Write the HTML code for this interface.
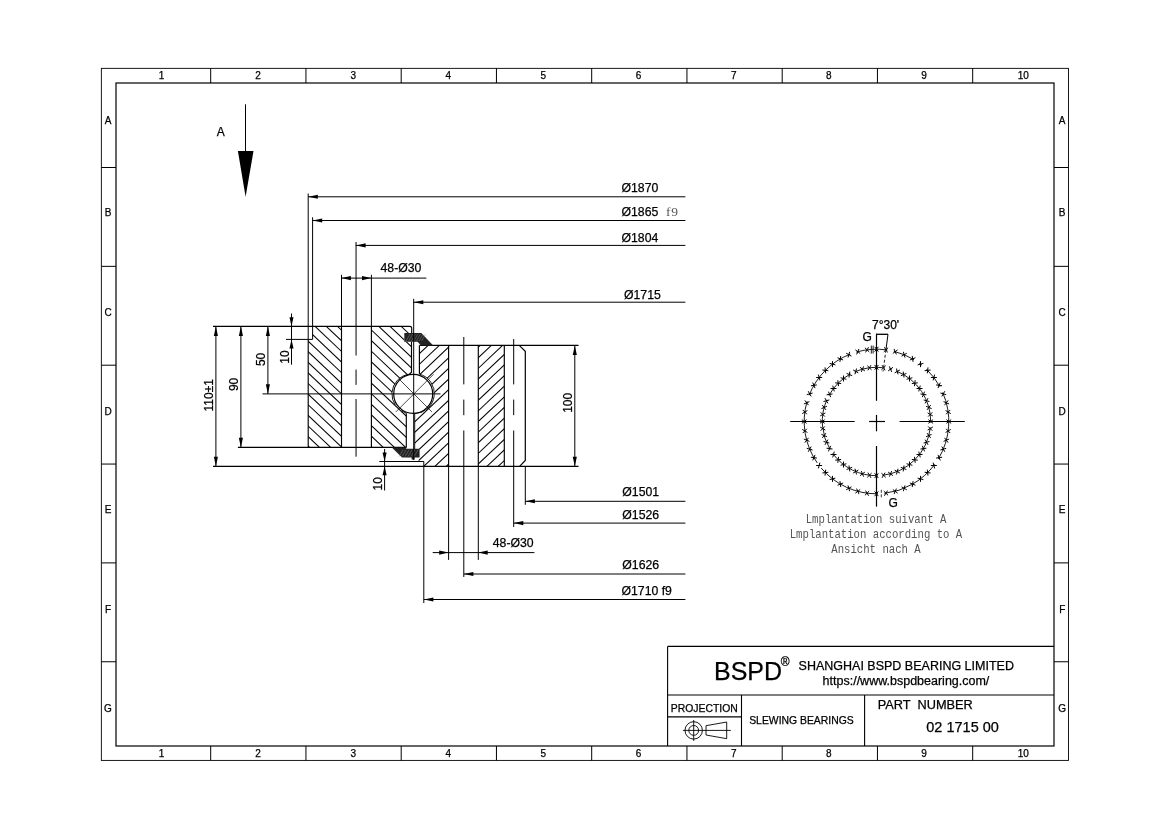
<!DOCTYPE html>
<html><head><meta charset="utf-8"><title>Slewing bearing 02 1715 00</title>
<style>
html,body{margin:0;padding:0;background:#fff;}
body{width:1170px;height:827px;overflow:hidden;font-family:"Liberation Sans",sans-serif;}
svg{display:block;filter:grayscale(1);}
</style></head><body>
<svg width="1170" height="827" viewBox="0 0 1170 827">
<rect width="1170" height="827" fill="#fff"/>
<rect x="101.35" y="68.35" width="967.15" height="692.05" fill="none" stroke="#000" stroke-width="0.9"/>
<rect x="116.0" y="83.0" width="938.00" height="663.00" fill="none" stroke="#000" stroke-width="1.2"/>
<line x1="210.70" y1="68.35" x2="210.70" y2="83.00" stroke="#000" stroke-width="1.0" />
<line x1="210.70" y1="746.00" x2="210.70" y2="760.40" stroke="#000" stroke-width="1.0" />
<line x1="305.95" y1="68.35" x2="305.95" y2="83.00" stroke="#000" stroke-width="1.0" />
<line x1="305.95" y1="746.00" x2="305.95" y2="760.40" stroke="#000" stroke-width="1.0" />
<line x1="401.20" y1="68.35" x2="401.20" y2="83.00" stroke="#000" stroke-width="1.0" />
<line x1="401.20" y1="746.00" x2="401.20" y2="760.40" stroke="#000" stroke-width="1.0" />
<line x1="496.45" y1="68.35" x2="496.45" y2="83.00" stroke="#000" stroke-width="1.0" />
<line x1="496.45" y1="746.00" x2="496.45" y2="760.40" stroke="#000" stroke-width="1.0" />
<line x1="591.70" y1="68.35" x2="591.70" y2="83.00" stroke="#000" stroke-width="1.0" />
<line x1="591.70" y1="746.00" x2="591.70" y2="760.40" stroke="#000" stroke-width="1.0" />
<line x1="686.95" y1="68.35" x2="686.95" y2="83.00" stroke="#000" stroke-width="1.0" />
<line x1="686.95" y1="746.00" x2="686.95" y2="760.40" stroke="#000" stroke-width="1.0" />
<line x1="782.20" y1="68.35" x2="782.20" y2="83.00" stroke="#000" stroke-width="1.0" />
<line x1="782.20" y1="746.00" x2="782.20" y2="760.40" stroke="#000" stroke-width="1.0" />
<line x1="877.45" y1="68.35" x2="877.45" y2="83.00" stroke="#000" stroke-width="1.0" />
<line x1="877.45" y1="746.00" x2="877.45" y2="760.40" stroke="#000" stroke-width="1.0" />
<line x1="972.70" y1="68.35" x2="972.70" y2="83.00" stroke="#000" stroke-width="1.0" />
<line x1="972.70" y1="746.00" x2="972.70" y2="760.40" stroke="#000" stroke-width="1.0" />
<line x1="101.35" y1="167.50" x2="116.00" y2="167.50" stroke="#000" stroke-width="1.0" />
<line x1="1054.00" y1="167.50" x2="1068.50" y2="167.50" stroke="#000" stroke-width="1.0" />
<line x1="101.35" y1="266.35" x2="116.00" y2="266.35" stroke="#000" stroke-width="1.0" />
<line x1="1054.00" y1="266.35" x2="1068.50" y2="266.35" stroke="#000" stroke-width="1.0" />
<line x1="101.35" y1="365.20" x2="116.00" y2="365.20" stroke="#000" stroke-width="1.0" />
<line x1="1054.00" y1="365.20" x2="1068.50" y2="365.20" stroke="#000" stroke-width="1.0" />
<line x1="101.35" y1="464.05" x2="116.00" y2="464.05" stroke="#000" stroke-width="1.0" />
<line x1="1054.00" y1="464.05" x2="1068.50" y2="464.05" stroke="#000" stroke-width="1.0" />
<line x1="101.35" y1="562.90" x2="116.00" y2="562.90" stroke="#000" stroke-width="1.0" />
<line x1="1054.00" y1="562.90" x2="1068.50" y2="562.90" stroke="#000" stroke-width="1.0" />
<line x1="101.35" y1="661.75" x2="116.00" y2="661.75" stroke="#000" stroke-width="1.0" />
<line x1="1054.00" y1="661.75" x2="1068.50" y2="661.75" stroke="#000" stroke-width="1.0" />
<text x="161.50" y="78.90" font-family="Liberation Sans" font-size="10" text-anchor="middle" fill="#000"  stroke="#000" stroke-width="0.25">1</text>
<text x="161.50" y="756.80" font-family="Liberation Sans" font-size="10" text-anchor="middle" fill="#000"  stroke="#000" stroke-width="0.25">1</text>
<text x="258.10" y="78.90" font-family="Liberation Sans" font-size="10" text-anchor="middle" fill="#000"  stroke="#000" stroke-width="0.25">2</text>
<text x="258.10" y="756.80" font-family="Liberation Sans" font-size="10" text-anchor="middle" fill="#000"  stroke="#000" stroke-width="0.25">2</text>
<text x="353.20" y="78.90" font-family="Liberation Sans" font-size="10" text-anchor="middle" fill="#000"  stroke="#000" stroke-width="0.25">3</text>
<text x="353.20" y="756.80" font-family="Liberation Sans" font-size="10" text-anchor="middle" fill="#000"  stroke="#000" stroke-width="0.25">3</text>
<text x="448.40" y="78.90" font-family="Liberation Sans" font-size="10" text-anchor="middle" fill="#000"  stroke="#000" stroke-width="0.25">4</text>
<text x="448.40" y="756.80" font-family="Liberation Sans" font-size="10" text-anchor="middle" fill="#000"  stroke="#000" stroke-width="0.25">4</text>
<text x="543.40" y="78.90" font-family="Liberation Sans" font-size="10" text-anchor="middle" fill="#000"  stroke="#000" stroke-width="0.25">5</text>
<text x="543.40" y="756.80" font-family="Liberation Sans" font-size="10" text-anchor="middle" fill="#000"  stroke="#000" stroke-width="0.25">5</text>
<text x="638.60" y="78.90" font-family="Liberation Sans" font-size="10" text-anchor="middle" fill="#000"  stroke="#000" stroke-width="0.25">6</text>
<text x="638.60" y="756.80" font-family="Liberation Sans" font-size="10" text-anchor="middle" fill="#000"  stroke="#000" stroke-width="0.25">6</text>
<text x="733.80" y="78.90" font-family="Liberation Sans" font-size="10" text-anchor="middle" fill="#000"  stroke="#000" stroke-width="0.25">7</text>
<text x="733.80" y="756.80" font-family="Liberation Sans" font-size="10" text-anchor="middle" fill="#000"  stroke="#000" stroke-width="0.25">7</text>
<text x="828.90" y="78.90" font-family="Liberation Sans" font-size="10" text-anchor="middle" fill="#000"  stroke="#000" stroke-width="0.25">8</text>
<text x="828.90" y="756.80" font-family="Liberation Sans" font-size="10" text-anchor="middle" fill="#000"  stroke="#000" stroke-width="0.25">8</text>
<text x="924.00" y="78.90" font-family="Liberation Sans" font-size="10" text-anchor="middle" fill="#000"  stroke="#000" stroke-width="0.25">9</text>
<text x="924.00" y="756.80" font-family="Liberation Sans" font-size="10" text-anchor="middle" fill="#000"  stroke="#000" stroke-width="0.25">9</text>
<text x="1023.20" y="78.90" font-family="Liberation Sans" font-size="10" text-anchor="middle" fill="#000"  stroke="#000" stroke-width="0.25">10</text>
<text x="1023.20" y="756.80" font-family="Liberation Sans" font-size="10" text-anchor="middle" fill="#000"  stroke="#000" stroke-width="0.25">10</text>
<text x="108.00" y="123.50" font-family="Liberation Sans" font-size="10" text-anchor="middle" fill="#000"  stroke="#000" stroke-width="0.25">A</text>
<text x="1062.20" y="123.50" font-family="Liberation Sans" font-size="10" text-anchor="middle" fill="#000"  stroke="#000" stroke-width="0.25">A</text>
<text x="108.00" y="215.90" font-family="Liberation Sans" font-size="10" text-anchor="middle" fill="#000"  stroke="#000" stroke-width="0.25">B</text>
<text x="1062.20" y="215.90" font-family="Liberation Sans" font-size="10" text-anchor="middle" fill="#000"  stroke="#000" stroke-width="0.25">B</text>
<text x="108.00" y="315.60" font-family="Liberation Sans" font-size="10" text-anchor="middle" fill="#000"  stroke="#000" stroke-width="0.25">C</text>
<text x="1062.20" y="315.60" font-family="Liberation Sans" font-size="10" text-anchor="middle" fill="#000"  stroke="#000" stroke-width="0.25">C</text>
<text x="108.00" y="414.50" font-family="Liberation Sans" font-size="10" text-anchor="middle" fill="#000"  stroke="#000" stroke-width="0.25">D</text>
<text x="1062.20" y="414.50" font-family="Liberation Sans" font-size="10" text-anchor="middle" fill="#000"  stroke="#000" stroke-width="0.25">D</text>
<text x="108.00" y="513.40" font-family="Liberation Sans" font-size="10" text-anchor="middle" fill="#000"  stroke="#000" stroke-width="0.25">E</text>
<text x="1062.20" y="513.40" font-family="Liberation Sans" font-size="10" text-anchor="middle" fill="#000"  stroke="#000" stroke-width="0.25">E</text>
<text x="108.00" y="612.70" font-family="Liberation Sans" font-size="10" text-anchor="middle" fill="#000"  stroke="#000" stroke-width="0.25">F</text>
<text x="1062.20" y="612.70" font-family="Liberation Sans" font-size="10" text-anchor="middle" fill="#000"  stroke="#000" stroke-width="0.25">F</text>
<text x="108.00" y="711.50" font-family="Liberation Sans" font-size="10" text-anchor="middle" fill="#000"  stroke="#000" stroke-width="0.25">G</text>
<text x="1062.20" y="711.50" font-family="Liberation Sans" font-size="10" text-anchor="middle" fill="#000"  stroke="#000" stroke-width="0.25">G</text>
<line x1="245.50" y1="104.30" x2="245.50" y2="151.50" stroke="#000" stroke-width="1.0" />
<polygon points="237.9,150.9 253.5,150.9 245.6,196.8" fill="#000"/>
<text x="216.70" y="135.90" font-family="Liberation Sans" font-size="12" text-anchor="start" fill="#000"  stroke="#000" stroke-width="0.25">A</text>
<defs>
<clipPath id="co1"><path d="M312.6,326.3 L341.5,326.3 L341.5,447.4 L308.2,447.4 L308.2,339.4 L312.6,339.4 Z"/></clipPath>
<clipPath id="co2"><path d="M371.4,326.3 L411.7,326.3 L411.7,333.2 L404.3,333.2 L404.3,341.7 L411.5,341.7 L411.5,372.3 L409.3,374.2 A19.98,19.98 0 0 0 406.3,413.2 L406.3,447.4 L371.4,447.4 Z"/></clipPath>
<clipPath id="ci1"><path d="M419.4,345.4 L448.6,345.4 L448.6,466.3 L423.8,466.3 L423.8,461.5 L418.2,461.5 L419.5,457.5 L419.5,449 L414.7,449 L414.7,413.6 A20.09,20.09 0 0 0 419.4,374.1 Z"/></clipPath>
<clipPath id="ci2"><rect x="478.3" y="345.4" width="26.00" height="120.90"/></clipPath>
</defs>
<g clip-path="url(#co1)">
<line x1="300.00" y1="142.18" x2="420.00" y2="255.82" stroke="#000" stroke-width="1.05" />
<line x1="300.00" y1="152.80" x2="420.00" y2="266.44" stroke="#000" stroke-width="1.05" />
<line x1="300.00" y1="163.42" x2="420.00" y2="277.06" stroke="#000" stroke-width="1.05" />
<line x1="300.00" y1="174.04" x2="420.00" y2="287.68" stroke="#000" stroke-width="1.05" />
<line x1="300.00" y1="184.66" x2="420.00" y2="298.30" stroke="#000" stroke-width="1.05" />
<line x1="300.00" y1="195.28" x2="420.00" y2="308.92" stroke="#000" stroke-width="1.05" />
<line x1="300.00" y1="205.90" x2="420.00" y2="319.54" stroke="#000" stroke-width="1.05" />
<line x1="300.00" y1="216.52" x2="420.00" y2="330.16" stroke="#000" stroke-width="1.05" />
<line x1="300.00" y1="227.14" x2="420.00" y2="340.78" stroke="#000" stroke-width="1.05" />
<line x1="300.00" y1="237.76" x2="420.00" y2="351.40" stroke="#000" stroke-width="1.05" />
<line x1="300.00" y1="248.38" x2="420.00" y2="362.02" stroke="#000" stroke-width="1.05" />
<line x1="300.00" y1="259.00" x2="420.00" y2="372.64" stroke="#000" stroke-width="1.05" />
<line x1="300.00" y1="269.62" x2="420.00" y2="383.26" stroke="#000" stroke-width="1.05" />
<line x1="300.00" y1="280.24" x2="420.00" y2="393.88" stroke="#000" stroke-width="1.05" />
<line x1="300.00" y1="290.86" x2="420.00" y2="404.50" stroke="#000" stroke-width="1.05" />
<line x1="300.00" y1="301.48" x2="420.00" y2="415.12" stroke="#000" stroke-width="1.05" />
<line x1="300.00" y1="312.10" x2="420.00" y2="425.74" stroke="#000" stroke-width="1.05" />
<line x1="300.00" y1="322.72" x2="420.00" y2="436.36" stroke="#000" stroke-width="1.05" />
<line x1="300.00" y1="333.34" x2="420.00" y2="446.98" stroke="#000" stroke-width="1.05" />
<line x1="300.00" y1="343.96" x2="420.00" y2="457.60" stroke="#000" stroke-width="1.05" />
<line x1="300.00" y1="354.58" x2="420.00" y2="468.22" stroke="#000" stroke-width="1.05" />
<line x1="300.00" y1="365.20" x2="420.00" y2="478.84" stroke="#000" stroke-width="1.05" />
<line x1="300.00" y1="375.82" x2="420.00" y2="489.46" stroke="#000" stroke-width="1.05" />
<line x1="300.00" y1="386.44" x2="420.00" y2="500.08" stroke="#000" stroke-width="1.05" />
<line x1="300.00" y1="397.06" x2="420.00" y2="510.70" stroke="#000" stroke-width="1.05" />
<line x1="300.00" y1="407.68" x2="420.00" y2="521.32" stroke="#000" stroke-width="1.05" />
<line x1="300.00" y1="418.30" x2="420.00" y2="531.94" stroke="#000" stroke-width="1.05" />
<line x1="300.00" y1="428.92" x2="420.00" y2="542.56" stroke="#000" stroke-width="1.05" />
<line x1="300.00" y1="439.54" x2="420.00" y2="553.18" stroke="#000" stroke-width="1.05" />
<line x1="300.00" y1="450.16" x2="420.00" y2="563.80" stroke="#000" stroke-width="1.05" />
<line x1="300.00" y1="460.78" x2="420.00" y2="574.42" stroke="#000" stroke-width="1.05" />
<line x1="300.00" y1="471.40" x2="420.00" y2="585.04" stroke="#000" stroke-width="1.05" />
</g>
<g clip-path="url(#co2)">
<line x1="300.00" y1="145.58" x2="420.00" y2="259.22" stroke="#000" stroke-width="1.05" />
<line x1="300.00" y1="156.20" x2="420.00" y2="269.84" stroke="#000" stroke-width="1.05" />
<line x1="300.00" y1="166.82" x2="420.00" y2="280.46" stroke="#000" stroke-width="1.05" />
<line x1="300.00" y1="177.44" x2="420.00" y2="291.08" stroke="#000" stroke-width="1.05" />
<line x1="300.00" y1="188.06" x2="420.00" y2="301.70" stroke="#000" stroke-width="1.05" />
<line x1="300.00" y1="198.68" x2="420.00" y2="312.32" stroke="#000" stroke-width="1.05" />
<line x1="300.00" y1="209.30" x2="420.00" y2="322.94" stroke="#000" stroke-width="1.05" />
<line x1="300.00" y1="219.92" x2="420.00" y2="333.56" stroke="#000" stroke-width="1.05" />
<line x1="300.00" y1="230.54" x2="420.00" y2="344.18" stroke="#000" stroke-width="1.05" />
<line x1="300.00" y1="241.16" x2="420.00" y2="354.80" stroke="#000" stroke-width="1.05" />
<line x1="300.00" y1="251.78" x2="420.00" y2="365.42" stroke="#000" stroke-width="1.05" />
<line x1="300.00" y1="262.40" x2="420.00" y2="376.04" stroke="#000" stroke-width="1.05" />
<line x1="300.00" y1="273.02" x2="420.00" y2="386.66" stroke="#000" stroke-width="1.05" />
<line x1="300.00" y1="283.64" x2="420.00" y2="397.28" stroke="#000" stroke-width="1.05" />
<line x1="300.00" y1="294.26" x2="420.00" y2="407.90" stroke="#000" stroke-width="1.05" />
<line x1="300.00" y1="304.88" x2="420.00" y2="418.52" stroke="#000" stroke-width="1.05" />
<line x1="300.00" y1="315.50" x2="420.00" y2="429.14" stroke="#000" stroke-width="1.05" />
<line x1="300.00" y1="326.12" x2="420.00" y2="439.76" stroke="#000" stroke-width="1.05" />
<line x1="300.00" y1="336.74" x2="420.00" y2="450.38" stroke="#000" stroke-width="1.05" />
<line x1="300.00" y1="347.36" x2="420.00" y2="461.00" stroke="#000" stroke-width="1.05" />
<line x1="300.00" y1="357.98" x2="420.00" y2="471.62" stroke="#000" stroke-width="1.05" />
<line x1="300.00" y1="368.60" x2="420.00" y2="482.24" stroke="#000" stroke-width="1.05" />
<line x1="300.00" y1="379.22" x2="420.00" y2="492.86" stroke="#000" stroke-width="1.05" />
<line x1="300.00" y1="389.84" x2="420.00" y2="503.48" stroke="#000" stroke-width="1.05" />
<line x1="300.00" y1="400.46" x2="420.00" y2="514.10" stroke="#000" stroke-width="1.05" />
<line x1="300.00" y1="411.08" x2="420.00" y2="524.72" stroke="#000" stroke-width="1.05" />
<line x1="300.00" y1="421.70" x2="420.00" y2="535.34" stroke="#000" stroke-width="1.05" />
<line x1="300.00" y1="432.32" x2="420.00" y2="545.96" stroke="#000" stroke-width="1.05" />
<line x1="300.00" y1="442.94" x2="420.00" y2="556.58" stroke="#000" stroke-width="1.05" />
<line x1="300.00" y1="453.56" x2="420.00" y2="567.20" stroke="#000" stroke-width="1.05" />
<line x1="300.00" y1="464.18" x2="420.00" y2="577.82" stroke="#000" stroke-width="1.05" />
<line x1="300.00" y1="474.80" x2="420.00" y2="588.44" stroke="#000" stroke-width="1.05" />
</g>
<g clip-path="url(#ci1)">
<line x1="405.00" y1="324.79" x2="455.00" y2="277.44" stroke="#000" stroke-width="1.05" />
<line x1="405.00" y1="335.41" x2="455.00" y2="288.06" stroke="#000" stroke-width="1.05" />
<line x1="405.00" y1="346.03" x2="455.00" y2="298.68" stroke="#000" stroke-width="1.05" />
<line x1="405.00" y1="356.65" x2="455.00" y2="309.30" stroke="#000" stroke-width="1.05" />
<line x1="405.00" y1="367.27" x2="455.00" y2="319.92" stroke="#000" stroke-width="1.05" />
<line x1="405.00" y1="377.89" x2="455.00" y2="330.54" stroke="#000" stroke-width="1.05" />
<line x1="405.00" y1="388.51" x2="455.00" y2="341.16" stroke="#000" stroke-width="1.05" />
<line x1="405.00" y1="399.13" x2="455.00" y2="351.78" stroke="#000" stroke-width="1.05" />
<line x1="405.00" y1="409.75" x2="455.00" y2="362.40" stroke="#000" stroke-width="1.05" />
<line x1="405.00" y1="420.37" x2="455.00" y2="373.02" stroke="#000" stroke-width="1.05" />
<line x1="405.00" y1="430.99" x2="455.00" y2="383.64" stroke="#000" stroke-width="1.05" />
<line x1="405.00" y1="441.61" x2="455.00" y2="394.26" stroke="#000" stroke-width="1.05" />
<line x1="405.00" y1="452.23" x2="455.00" y2="404.88" stroke="#000" stroke-width="1.05" />
<line x1="405.00" y1="462.85" x2="455.00" y2="415.50" stroke="#000" stroke-width="1.05" />
<line x1="405.00" y1="473.47" x2="455.00" y2="426.12" stroke="#000" stroke-width="1.05" />
<line x1="405.00" y1="484.09" x2="455.00" y2="436.74" stroke="#000" stroke-width="1.05" />
<line x1="405.00" y1="494.71" x2="455.00" y2="447.36" stroke="#000" stroke-width="1.05" />
<line x1="405.00" y1="505.33" x2="455.00" y2="457.98" stroke="#000" stroke-width="1.05" />
<line x1="405.00" y1="515.95" x2="455.00" y2="468.60" stroke="#000" stroke-width="1.05" />
<line x1="405.00" y1="526.57" x2="455.00" y2="479.22" stroke="#000" stroke-width="1.05" />
<line x1="405.00" y1="537.19" x2="455.00" y2="489.84" stroke="#000" stroke-width="1.05" />
<line x1="405.00" y1="547.81" x2="455.00" y2="500.46" stroke="#000" stroke-width="1.05" />
<line x1="405.00" y1="558.43" x2="455.00" y2="511.08" stroke="#000" stroke-width="1.05" />
<line x1="405.00" y1="569.05" x2="455.00" y2="521.70" stroke="#000" stroke-width="1.05" />
<line x1="405.00" y1="579.67" x2="455.00" y2="532.32" stroke="#000" stroke-width="1.05" />
<line x1="405.00" y1="590.29" x2="455.00" y2="542.94" stroke="#000" stroke-width="1.05" />
<line x1="405.00" y1="600.91" x2="455.00" y2="553.56" stroke="#000" stroke-width="1.05" />
<line x1="405.00" y1="611.53" x2="455.00" y2="564.18" stroke="#000" stroke-width="1.05" />
<line x1="405.00" y1="622.15" x2="455.00" y2="574.80" stroke="#000" stroke-width="1.05" />
<line x1="405.00" y1="632.77" x2="455.00" y2="585.42" stroke="#000" stroke-width="1.05" />
</g>
<g clip-path="url(#ci2)">
<line x1="470.00" y1="301.88" x2="510.00" y2="264.00" stroke="#000" stroke-width="1.05" />
<line x1="470.00" y1="312.50" x2="510.00" y2="274.62" stroke="#000" stroke-width="1.05" />
<line x1="470.00" y1="323.12" x2="510.00" y2="285.24" stroke="#000" stroke-width="1.05" />
<line x1="470.00" y1="333.74" x2="510.00" y2="295.86" stroke="#000" stroke-width="1.05" />
<line x1="470.00" y1="344.36" x2="510.00" y2="306.48" stroke="#000" stroke-width="1.05" />
<line x1="470.00" y1="354.98" x2="510.00" y2="317.10" stroke="#000" stroke-width="1.05" />
<line x1="470.00" y1="365.60" x2="510.00" y2="327.72" stroke="#000" stroke-width="1.05" />
<line x1="470.00" y1="376.22" x2="510.00" y2="338.34" stroke="#000" stroke-width="1.05" />
<line x1="470.00" y1="386.84" x2="510.00" y2="348.96" stroke="#000" stroke-width="1.05" />
<line x1="470.00" y1="397.46" x2="510.00" y2="359.58" stroke="#000" stroke-width="1.05" />
<line x1="470.00" y1="408.08" x2="510.00" y2="370.20" stroke="#000" stroke-width="1.05" />
<line x1="470.00" y1="418.70" x2="510.00" y2="380.82" stroke="#000" stroke-width="1.05" />
<line x1="470.00" y1="429.32" x2="510.00" y2="391.44" stroke="#000" stroke-width="1.05" />
<line x1="470.00" y1="439.94" x2="510.00" y2="402.06" stroke="#000" stroke-width="1.05" />
<line x1="470.00" y1="450.56" x2="510.00" y2="412.68" stroke="#000" stroke-width="1.05" />
<line x1="470.00" y1="461.18" x2="510.00" y2="423.30" stroke="#000" stroke-width="1.05" />
<line x1="470.00" y1="471.80" x2="510.00" y2="433.92" stroke="#000" stroke-width="1.05" />
<line x1="470.00" y1="482.42" x2="510.00" y2="444.54" stroke="#000" stroke-width="1.05" />
<line x1="470.00" y1="493.04" x2="510.00" y2="455.16" stroke="#000" stroke-width="1.05" />
<line x1="470.00" y1="503.66" x2="510.00" y2="465.78" stroke="#000" stroke-width="1.05" />
<line x1="470.00" y1="514.28" x2="510.00" y2="476.40" stroke="#000" stroke-width="1.05" />
<line x1="470.00" y1="524.90" x2="510.00" y2="487.02" stroke="#000" stroke-width="1.05" />
<line x1="470.00" y1="535.52" x2="510.00" y2="497.64" stroke="#000" stroke-width="1.05" />
<line x1="470.00" y1="546.14" x2="510.00" y2="508.26" stroke="#000" stroke-width="1.05" />
<line x1="470.00" y1="556.76" x2="510.00" y2="518.88" stroke="#000" stroke-width="1.05" />
<line x1="470.00" y1="567.38" x2="510.00" y2="529.50" stroke="#000" stroke-width="1.05" />
<line x1="470.00" y1="578.00" x2="510.00" y2="540.12" stroke="#000" stroke-width="1.05" />
<line x1="470.00" y1="588.62" x2="510.00" y2="550.74" stroke="#000" stroke-width="1.05" />
</g>
<path d="M213,326.3 L409.7,326.3 Q411.7,326.3 411.7,328.3 L411.7,333.2" stroke="#000" stroke-width="1.15" fill="none" />
<path d="M312.6,326.3 L312.6,339.4 L286,339.4" stroke="#000" stroke-width="1.0" fill="none" />
<path d="M308.2,339.4 L308.2,445.4 Q308.2,447.4 310.2,447.4" stroke="#000" stroke-width="1.15" fill="none" />
<line x1="237.90" y1="447.40" x2="406.30" y2="447.40" stroke="#000" stroke-width="1.15" />
<line x1="341.50" y1="326.30" x2="341.50" y2="447.40" stroke="#000" stroke-width="1.15" />
<line x1="371.40" y1="326.30" x2="371.40" y2="447.40" stroke="#000" stroke-width="1.15" />
<path d="M411.5,341.7 L411.5,372.3 L409.3,374.2" stroke="#000" stroke-width="1.15" fill="none" />
<path d="M406.3,413.2 L406.3,447.4" stroke="#000" stroke-width="1.15" fill="none" />
<path d="M409.3,374.2 A19.98,19.98 0 0 0 406.3,413.2" stroke="#000" stroke-width="0.9" fill="none" />
<path d="M419.4,374.1 A20.09,20.09 0 0 1 414.7,413.6" stroke="#000" stroke-width="0.9" fill="none" />
<circle cx="413.2" cy="393.9" r="19.5" fill="none" stroke="#000" stroke-width="1.2"/>
<line x1="395.87" y1="411.93" x2="433.43" y2="374.37" stroke="#000" stroke-width="0.7" />
<line x1="398.87" y1="378.87" x2="431.93" y2="411.93" stroke="#000" stroke-width="0.7" />
<line x1="419.40" y1="345.40" x2="578.50" y2="345.40" stroke="#000" stroke-width="1.15" />
<line x1="213.00" y1="466.30" x2="578.50" y2="466.30" stroke="#000" stroke-width="1.15" />
<path d="M419.4,345.4 L419.4,374.1" stroke="#000" stroke-width="1.15" fill="none" />
<path d="M414.7,413.6 L414.7,449" stroke="#000" stroke-width="0.9" fill="none" />
<line x1="448.60" y1="345.40" x2="448.60" y2="466.30" stroke="#000" stroke-width="1.15" />
<line x1="478.30" y1="345.40" x2="478.30" y2="466.30" stroke="#000" stroke-width="1.15" />
<line x1="504.30" y1="345.40" x2="504.30" y2="466.30" stroke="#000" stroke-width="1.15" />
<path d="M519.2,345.4 L525.3,351.3 L525.3,460.4 L519.6,466.3" stroke="#000" stroke-width="1.2" fill="none" />
<path d="M379.3,461.5 L423.8,461.5 L423.8,466.3" stroke="#000" stroke-width="1.0" fill="none" />
<polygon points="404.3,333.0 421.3,333.0 433.2,345.4 421.0,345.4 417.6,341.8 404.3,341.8" fill="#222"/>
<polygon points="391.8,447.4 406.2,447.4 406.2,448.8 419.6,448.8 419.6,457.6 414.6,457.6 414.6,459.6 411.6,459.6 411.6,457.6 402.0,457.6" fill="#222"/>
<g stroke="#888" stroke-width="0.5">
<line x1="406.0" y1="341" x2="410.0" y2="334.2"/>
<line x1="408.6" y1="341" x2="412.6" y2="334.2"/>
<line x1="411.2" y1="341" x2="415.2" y2="334.2"/>
<line x1="413.8" y1="341" x2="417.8" y2="334.2"/>
<line x1="416.4" y1="341" x2="420.4" y2="334.2"/>
<line x1="419.0" y1="341" x2="423.0" y2="334.2"/>
<line x1="421.6" y1="341" x2="425.6" y2="334.2"/>
<line x1="399.0" y1="456.6" x2="403.0" y2="449.8"/>
<line x1="402.0" y1="456.6" x2="406.0" y2="449.8"/>
<line x1="405.0" y1="456.6" x2="409.0" y2="449.8"/>
<line x1="408.0" y1="456.6" x2="412.0" y2="449.8"/>
<line x1="411.0" y1="456.6" x2="415.0" y2="449.8"/>
<line x1="414.0" y1="456.6" x2="418.0" y2="449.8"/>
</g>
<line x1="262.50" y1="393.90" x2="440.50" y2="393.90" stroke="#000" stroke-width="1.0" />
<line x1="413.70" y1="302.20" x2="413.70" y2="460.00" stroke="#000" stroke-width="1.0" />
<line x1="356.05" y1="245.40" x2="356.05" y2="355.50" stroke="#000" stroke-width="1.0" />
<line x1="356.05" y1="369.60" x2="356.05" y2="384.90" stroke="#000" stroke-width="1.0" />
<line x1="356.05" y1="399.00" x2="356.05" y2="456.70" stroke="#000" stroke-width="1.0" />
<line x1="463.80" y1="337.00" x2="463.80" y2="384.40" stroke="#000" stroke-width="1.0" />
<line x1="463.80" y1="399.60" x2="463.80" y2="415.20" stroke="#000" stroke-width="1.0" />
<line x1="463.80" y1="430.50" x2="463.80" y2="577.00" stroke="#000" stroke-width="1.0" />
<line x1="513.70" y1="339.10" x2="513.70" y2="384.40" stroke="#000" stroke-width="1.0" />
<line x1="513.70" y1="399.60" x2="513.70" y2="415.20" stroke="#000" stroke-width="1.0" />
<line x1="513.70" y1="430.50" x2="513.70" y2="527.00" stroke="#000" stroke-width="1.0" />
<line x1="308.20" y1="193.50" x2="308.20" y2="339.40" stroke="#000" stroke-width="1.0" />
<line x1="308.20" y1="196.80" x2="685.40" y2="196.80" stroke="#000" stroke-width="1.0" />
<polygon points="308.20,196.80 317.80,194.75 317.80,198.85" fill="#000"/>
<text x="621.50" y="191.80" font-family="Liberation Sans" font-size="12.25" text-anchor="start" fill="#000"  stroke="#000" stroke-width="0.25">Ø1870</text>
<line x1="312.60" y1="217.30" x2="312.60" y2="326.30" stroke="#000" stroke-width="1.0" />
<line x1="312.60" y1="220.50" x2="685.40" y2="220.50" stroke="#000" stroke-width="1.0" />
<polygon points="312.60,220.50 322.20,218.45 322.20,222.55" fill="#000"/>
<text x="621.50" y="215.80" font-family="Liberation Sans" font-size="12.25" text-anchor="start" fill="#000"  stroke="#000" stroke-width="0.25">Ø1865</text>
<text x="666.00" y="215.80" font-family="Liberation Serif" font-size="13.5" text-anchor="start" fill="#555" letter-spacing="0.7">f9</text>
<line x1="356.05" y1="245.40" x2="685.40" y2="245.40" stroke="#000" stroke-width="1.0" />
<polygon points="356.05,245.40 365.65,243.35 365.65,247.45" fill="#000"/>
<text x="621.50" y="241.90" font-family="Liberation Sans" font-size="12.25" text-anchor="start" fill="#000"  stroke="#000" stroke-width="0.25">Ø1804</text>
<line x1="356.05" y1="242.00" x2="356.05" y2="246.00" stroke="#000" stroke-width="1.0" />
<line x1="413.70" y1="298.80" x2="413.70" y2="303.00" stroke="#000" stroke-width="1.0" />
<line x1="413.70" y1="302.20" x2="685.40" y2="302.20" stroke="#000" stroke-width="1.0" />
<polygon points="413.70,302.20 423.30,300.15 423.30,304.25" fill="#000"/>
<text x="624.00" y="298.70" font-family="Liberation Sans" font-size="12.25" text-anchor="start" fill="#000"  stroke="#000" stroke-width="0.25">Ø1715</text>
<line x1="341.50" y1="274.80" x2="341.50" y2="326.30" stroke="#000" stroke-width="1.0" />
<line x1="371.40" y1="274.80" x2="371.40" y2="326.30" stroke="#000" stroke-width="1.0" />
<line x1="341.50" y1="278.10" x2="426.40" y2="278.10" stroke="#000" stroke-width="1.0" />
<polygon points="341.50,278.10 350.90,276.05 350.90,280.15" fill="#000"/>
<polygon points="371.40,278.10 362.00,280.15 362.00,276.05" fill="#000"/>
<text x="380.50" y="271.60" font-family="Liberation Sans" font-size="12.25" text-anchor="start" fill="#000"  stroke="#000" stroke-width="0.25">48-Ø30</text>
<line x1="525.30" y1="466.30" x2="525.30" y2="504.80" stroke="#000" stroke-width="1.0" />
<line x1="525.30" y1="501.30" x2="685.40" y2="501.30" stroke="#000" stroke-width="1.0" />
<polygon points="525.30,501.30 534.90,499.25 534.90,503.35" fill="#000"/>
<text x="622.30" y="496.10" font-family="Liberation Sans" font-size="12.25" text-anchor="start" fill="#000"  stroke="#000" stroke-width="0.25">Ø1501</text>
<line x1="513.70" y1="523.10" x2="685.40" y2="523.10" stroke="#000" stroke-width="1.0" />
<polygon points="513.70,523.10 523.30,521.05 523.30,525.15" fill="#000"/>
<text x="622.30" y="518.80" font-family="Liberation Sans" font-size="12.25" text-anchor="start" fill="#000"  stroke="#000" stroke-width="0.25">Ø1526</text>
<line x1="463.80" y1="574.00" x2="685.40" y2="574.00" stroke="#000" stroke-width="1.0" />
<polygon points="463.80,574.00 473.40,571.95 473.40,576.05" fill="#000"/>
<text x="622.30" y="569.30" font-family="Liberation Sans" font-size="12.25" text-anchor="start" fill="#000"  stroke="#000" stroke-width="0.25">Ø1626</text>
<line x1="423.80" y1="466.30" x2="423.80" y2="603.00" stroke="#000" stroke-width="1.0" />
<line x1="423.80" y1="599.50" x2="685.40" y2="599.50" stroke="#000" stroke-width="1.0" />
<polygon points="423.80,599.50 433.40,597.45 433.40,601.55" fill="#000"/>
<text x="621.50" y="594.90" font-family="Liberation Sans" font-size="12.25" text-anchor="start" fill="#000"  stroke="#000" stroke-width="0.25">Ø1710 f9</text>
<line x1="448.60" y1="466.30" x2="448.60" y2="559.90" stroke="#000" stroke-width="1.0" />
<line x1="478.30" y1="466.30" x2="478.30" y2="559.90" stroke="#000" stroke-width="1.0" />
<line x1="432.70" y1="552.60" x2="534.40" y2="552.60" stroke="#000" stroke-width="1.0" />
<polygon points="448.60,552.60 439.20,554.65 439.20,550.55" fill="#000"/>
<polygon points="478.30,552.60 487.70,550.55 487.70,554.65" fill="#000"/>
<text x="492.80" y="546.70" font-family="Liberation Sans" font-size="12.25" text-anchor="start" fill="#000"  stroke="#000" stroke-width="0.25">48-Ø30</text>
<line x1="574.80" y1="345.40" x2="574.80" y2="466.30" stroke="#000" stroke-width="1.0" />
<polygon points="574.80,345.40 576.85,355.00 572.75,355.00" fill="#000"/>
<polygon points="574.80,466.30 572.75,456.70 576.85,456.70" fill="#000"/>
<text transform="translate(571.6,402.8) rotate(-90)" font-family="Liberation Sans" font-size="12" text-anchor="middle" stroke="#000" stroke-width="0.25">100</text>
<line x1="215.90" y1="326.30" x2="215.90" y2="466.30" stroke="#000" stroke-width="1.0" />
<polygon points="215.90,326.30 217.95,335.90 213.85,335.90" fill="#000"/>
<polygon points="215.90,466.30 213.85,456.70 217.95,456.70" fill="#000"/>
<line x1="240.90" y1="326.30" x2="240.90" y2="447.40" stroke="#000" stroke-width="1.0" />
<polygon points="240.90,326.30 242.95,335.90 238.85,335.90" fill="#000"/>
<polygon points="240.90,447.40 238.85,437.80 242.95,437.80" fill="#000"/>
<line x1="267.90" y1="326.30" x2="267.90" y2="393.90" stroke="#000" stroke-width="1.0" />
<polygon points="267.90,326.30 269.95,335.90 265.85,335.90" fill="#000"/>
<polygon points="267.90,393.90 265.85,384.30 269.95,384.30" fill="#000"/>
<line x1="291.50" y1="313.50" x2="291.50" y2="364.70" stroke="#000" stroke-width="1.0" />
<polygon points="291.50,326.30 289.45,317.30 293.55,317.30" fill="#000"/>
<polygon points="291.50,339.40 293.55,348.40 289.45,348.40" fill="#000"/>
<text transform="translate(212.8,395.3) rotate(-90)" font-family="Liberation Sans" font-size="12" text-anchor="middle" stroke="#000" stroke-width="0.25">110±1</text>
<text transform="translate(238.0,384.4) rotate(-90)" font-family="Liberation Sans" font-size="12" text-anchor="middle" stroke="#000" stroke-width="0.25">90</text>
<text transform="translate(264.6,359.4) rotate(-90)" font-family="Liberation Sans" font-size="12" text-anchor="middle" stroke="#000" stroke-width="0.25">50</text>
<text transform="translate(288.6,357.0) rotate(-90)" font-family="Liberation Sans" font-size="12" text-anchor="middle" stroke="#000" stroke-width="0.25">10</text>
<line x1="384.60" y1="449.00" x2="384.60" y2="490.50" stroke="#000" stroke-width="1.0" />
<polygon points="384.60,461.50 382.55,452.50 386.65,452.50" fill="#000"/>
<polygon points="384.60,466.30 386.65,475.30 382.55,475.30" fill="#000"/>
<text transform="translate(381.5,483.8) rotate(-90)" font-family="Liberation Sans" font-size="12" text-anchor="middle" stroke="#000" stroke-width="0.25">10</text>
<line x1="876.50" y1="333.60" x2="876.50" y2="400.80" stroke="#000" stroke-width="1.2" />
<line x1="876.50" y1="414.90" x2="876.50" y2="431.30" stroke="#000" stroke-width="1.2" />
<line x1="876.50" y1="446.00" x2="876.50" y2="506.60" stroke="#000" stroke-width="1.2" />
<line x1="790.20" y1="421.50" x2="854.70" y2="421.50" stroke="#000" stroke-width="1.2" />
<line x1="869.10" y1="421.50" x2="885.00" y2="421.50" stroke="#000" stroke-width="1.2" />
<line x1="899.60" y1="421.50" x2="964.80" y2="421.50" stroke="#000" stroke-width="1.2" />
<path d="M893.75,351.29 A72.3,72.3 0 0 1 913.95,359.66" stroke="#111" stroke-width="0.95" fill="none" />
<path d="M919.30,363.23 A72.3,72.3 0 0 1 921.71,365.07" stroke="#111" stroke-width="0.95" fill="none" />
<path d="M926.54,369.32 A72.3,72.3 0 0 1 939.86,386.67" stroke="#111" stroke-width="0.95" fill="none" />
<path d="M942.70,392.44 A72.3,72.3 0 0 1 938.34,458.95" stroke="#111" stroke-width="0.95" fill="none" />
<path d="M934.77,464.30 A72.3,72.3 0 0 1 884.43,493.36" stroke="#111" stroke-width="0.95" fill="none" />
<path d="M878.01,493.78 A72.3,72.3 0 0 1 821.16,468.02" stroke="#111" stroke-width="0.95" fill="none" />
<path d="M817.24,462.92 A72.3,72.3 0 0 1 807.07,401.33" stroke="#111" stroke-width="0.95" fill="none" />
<path d="M809.14,395.24 A72.3,72.3 0 0 1 850.24,354.14" stroke="#111" stroke-width="0.95" fill="none" />
<path d="M856.33,352.07 A72.3,72.3 0 0 1 887.44,350.03" stroke="#111" stroke-width="0.95" fill="none" />
<path d="M889.43,368.86 A54.2,54.2 0 0 1 891.62,369.45" stroke="#111" stroke-width="0.95" fill="none" />
<path d="M896.19,371.00 A54.2,54.2 0 0 1 930.69,422.64" stroke="#111" stroke-width="0.95" fill="none" />
<path d="M930.37,427.45 A54.2,54.2 0 0 1 882.45,475.37" stroke="#111" stroke-width="0.95" fill="none" />
<path d="M877.64,475.69 A54.2,54.2 0 0 1 832.82,453.59" stroke="#111" stroke-width="0.95" fill="none" />
<path d="M830.14,449.58 A54.2,54.2 0 0 1 826.87,399.71" stroke="#111" stroke-width="0.95" fill="none" />
<path d="M829.00,395.39 A54.2,54.2 0 0 1 850.39,374.00" stroke="#111" stroke-width="0.95" fill="none" />
<path d="M854.71,371.87 A54.2,54.2 0 0 1 884.70,367.92" stroke="#111" stroke-width="0.95" fill="none" />
<line x1="874.65" y1="351.56" x2="878.35" y2="346.84" stroke="#000" stroke-width="1.0" />
<line x1="878.35" y1="351.56" x2="874.65" y2="346.84" stroke="#000" stroke-width="1.0" />
<line x1="883.80" y1="351.92" x2="888.08" y2="347.72" stroke="#000" stroke-width="1.0" />
<line x1="887.46" y1="352.40" x2="884.41" y2="347.23" stroke="#000" stroke-width="1.0" />
<line x1="892.82" y1="353.47" x2="897.61" y2="349.86" stroke="#000" stroke-width="1.0" />
<line x1="896.38" y1="354.43" x2="894.04" y2="348.90" stroke="#000" stroke-width="1.0" />
<line x1="901.56" y1="356.18" x2="906.78" y2="353.23" stroke="#000" stroke-width="1.0" />
<line x1="904.97" y1="357.59" x2="903.37" y2="351.81" stroke="#000" stroke-width="1.0" />
<line x1="909.87" y1="360.01" x2="915.43" y2="357.76" stroke="#000" stroke-width="1.0" />
<line x1="913.07" y1="361.86" x2="912.23" y2="355.92" stroke="#000" stroke-width="1.0" />
<line x1="917.61" y1="364.89" x2="923.42" y2="363.39" stroke="#000" stroke-width="1.0" />
<line x1="920.54" y1="367.14" x2="920.49" y2="361.14" stroke="#000" stroke-width="1.0" />
<line x1="924.65" y1="370.74" x2="930.60" y2="370.01" stroke="#000" stroke-width="1.0" />
<line x1="927.26" y1="373.35" x2="927.99" y2="367.40" stroke="#000" stroke-width="1.0" />
<line x1="930.86" y1="377.46" x2="936.86" y2="377.51" stroke="#000" stroke-width="1.0" />
<line x1="933.11" y1="380.39" x2="934.61" y2="374.58" stroke="#000" stroke-width="1.0" />
<line x1="936.14" y1="384.93" x2="942.08" y2="385.77" stroke="#000" stroke-width="1.0" />
<line x1="937.99" y1="388.13" x2="940.24" y2="382.57" stroke="#000" stroke-width="1.0" />
<line x1="940.41" y1="393.03" x2="946.19" y2="394.63" stroke="#000" stroke-width="1.0" />
<line x1="941.82" y1="396.44" x2="944.77" y2="391.22" stroke="#000" stroke-width="1.0" />
<line x1="943.57" y1="401.62" x2="949.10" y2="403.96" stroke="#000" stroke-width="1.0" />
<line x1="944.53" y1="405.18" x2="948.14" y2="400.39" stroke="#000" stroke-width="1.0" />
<line x1="945.60" y1="410.54" x2="950.77" y2="413.59" stroke="#000" stroke-width="1.0" />
<line x1="946.08" y1="414.20" x2="950.28" y2="409.92" stroke="#000" stroke-width="1.0" />
<line x1="946.44" y1="419.65" x2="951.16" y2="423.35" stroke="#000" stroke-width="1.0" />
<line x1="946.44" y1="423.35" x2="951.16" y2="419.65" stroke="#000" stroke-width="1.0" />
<line x1="946.08" y1="428.80" x2="950.28" y2="433.08" stroke="#000" stroke-width="1.0" />
<line x1="945.60" y1="432.46" x2="950.77" y2="429.41" stroke="#000" stroke-width="1.0" />
<line x1="944.53" y1="437.82" x2="948.14" y2="442.61" stroke="#000" stroke-width="1.0" />
<line x1="943.57" y1="441.38" x2="949.10" y2="439.04" stroke="#000" stroke-width="1.0" />
<line x1="941.82" y1="446.56" x2="944.77" y2="451.78" stroke="#000" stroke-width="1.0" />
<line x1="940.41" y1="449.97" x2="946.19" y2="448.37" stroke="#000" stroke-width="1.0" />
<line x1="937.99" y1="454.87" x2="940.24" y2="460.43" stroke="#000" stroke-width="1.0" />
<line x1="936.14" y1="458.07" x2="942.08" y2="457.23" stroke="#000" stroke-width="1.0" />
<line x1="933.11" y1="462.61" x2="934.61" y2="468.42" stroke="#000" stroke-width="1.0" />
<line x1="930.86" y1="465.54" x2="936.86" y2="465.49" stroke="#000" stroke-width="1.0" />
<line x1="927.26" y1="469.65" x2="927.99" y2="475.60" stroke="#000" stroke-width="1.0" />
<line x1="924.65" y1="472.26" x2="930.60" y2="472.99" stroke="#000" stroke-width="1.0" />
<line x1="920.54" y1="475.86" x2="920.49" y2="481.86" stroke="#000" stroke-width="1.0" />
<line x1="917.61" y1="478.11" x2="923.42" y2="479.61" stroke="#000" stroke-width="1.0" />
<line x1="913.07" y1="481.14" x2="912.23" y2="487.08" stroke="#000" stroke-width="1.0" />
<line x1="909.87" y1="482.99" x2="915.43" y2="485.24" stroke="#000" stroke-width="1.0" />
<line x1="904.97" y1="485.41" x2="903.37" y2="491.19" stroke="#000" stroke-width="1.0" />
<line x1="901.56" y1="486.82" x2="906.78" y2="489.77" stroke="#000" stroke-width="1.0" />
<line x1="896.38" y1="488.57" x2="894.04" y2="494.10" stroke="#000" stroke-width="1.0" />
<line x1="892.82" y1="489.53" x2="897.61" y2="493.14" stroke="#000" stroke-width="1.0" />
<line x1="887.46" y1="490.60" x2="884.41" y2="495.77" stroke="#000" stroke-width="1.0" />
<line x1="883.80" y1="491.08" x2="888.08" y2="495.28" stroke="#000" stroke-width="1.0" />
<line x1="878.35" y1="491.44" x2="874.65" y2="496.16" stroke="#000" stroke-width="1.0" />
<line x1="874.65" y1="491.44" x2="878.35" y2="496.16" stroke="#000" stroke-width="1.0" />
<line x1="869.20" y1="491.08" x2="864.92" y2="495.28" stroke="#000" stroke-width="1.0" />
<line x1="865.54" y1="490.60" x2="868.59" y2="495.77" stroke="#000" stroke-width="1.0" />
<line x1="860.18" y1="489.53" x2="855.39" y2="493.14" stroke="#000" stroke-width="1.0" />
<line x1="856.62" y1="488.57" x2="858.96" y2="494.10" stroke="#000" stroke-width="1.0" />
<line x1="851.44" y1="486.82" x2="846.22" y2="489.77" stroke="#000" stroke-width="1.0" />
<line x1="848.03" y1="485.41" x2="849.63" y2="491.19" stroke="#000" stroke-width="1.0" />
<line x1="843.13" y1="482.99" x2="837.57" y2="485.24" stroke="#000" stroke-width="1.0" />
<line x1="839.93" y1="481.14" x2="840.77" y2="487.08" stroke="#000" stroke-width="1.0" />
<line x1="835.39" y1="478.11" x2="829.58" y2="479.61" stroke="#000" stroke-width="1.0" />
<line x1="832.46" y1="475.86" x2="832.51" y2="481.86" stroke="#000" stroke-width="1.0" />
<line x1="828.35" y1="472.26" x2="822.40" y2="472.99" stroke="#000" stroke-width="1.0" />
<line x1="825.74" y1="469.65" x2="825.01" y2="475.60" stroke="#000" stroke-width="1.0" />
<line x1="822.14" y1="465.54" x2="816.14" y2="465.49" stroke="#000" stroke-width="1.0" />
<line x1="819.89" y1="462.61" x2="818.39" y2="468.42" stroke="#000" stroke-width="1.0" />
<line x1="816.86" y1="458.07" x2="810.92" y2="457.23" stroke="#000" stroke-width="1.0" />
<line x1="815.01" y1="454.87" x2="812.76" y2="460.43" stroke="#000" stroke-width="1.0" />
<line x1="812.59" y1="449.97" x2="806.81" y2="448.37" stroke="#000" stroke-width="1.0" />
<line x1="811.18" y1="446.56" x2="808.23" y2="451.78" stroke="#000" stroke-width="1.0" />
<line x1="809.43" y1="441.38" x2="803.90" y2="439.04" stroke="#000" stroke-width="1.0" />
<line x1="808.47" y1="437.82" x2="804.86" y2="442.61" stroke="#000" stroke-width="1.0" />
<line x1="807.40" y1="432.46" x2="802.23" y2="429.41" stroke="#000" stroke-width="1.0" />
<line x1="806.92" y1="428.80" x2="802.72" y2="433.08" stroke="#000" stroke-width="1.0" />
<line x1="806.56" y1="423.35" x2="801.84" y2="419.65" stroke="#000" stroke-width="1.0" />
<line x1="806.56" y1="419.65" x2="801.84" y2="423.35" stroke="#000" stroke-width="1.0" />
<line x1="806.92" y1="414.20" x2="802.72" y2="409.92" stroke="#000" stroke-width="1.0" />
<line x1="807.40" y1="410.54" x2="802.23" y2="413.59" stroke="#000" stroke-width="1.0" />
<line x1="808.47" y1="405.18" x2="804.86" y2="400.39" stroke="#000" stroke-width="1.0" />
<line x1="809.43" y1="401.62" x2="803.90" y2="403.96" stroke="#000" stroke-width="1.0" />
<line x1="811.18" y1="396.44" x2="808.23" y2="391.22" stroke="#000" stroke-width="1.0" />
<line x1="812.59" y1="393.03" x2="806.81" y2="394.63" stroke="#000" stroke-width="1.0" />
<line x1="815.01" y1="388.13" x2="812.76" y2="382.57" stroke="#000" stroke-width="1.0" />
<line x1="816.86" y1="384.93" x2="810.92" y2="385.77" stroke="#000" stroke-width="1.0" />
<line x1="819.89" y1="380.39" x2="818.39" y2="374.58" stroke="#000" stroke-width="1.0" />
<line x1="822.14" y1="377.46" x2="816.14" y2="377.51" stroke="#000" stroke-width="1.0" />
<line x1="825.74" y1="373.35" x2="825.01" y2="367.40" stroke="#000" stroke-width="1.0" />
<line x1="828.35" y1="370.74" x2="822.40" y2="370.01" stroke="#000" stroke-width="1.0" />
<line x1="832.46" y1="367.14" x2="832.51" y2="361.14" stroke="#000" stroke-width="1.0" />
<line x1="835.39" y1="364.89" x2="829.58" y2="363.39" stroke="#000" stroke-width="1.0" />
<line x1="839.93" y1="361.86" x2="840.77" y2="355.92" stroke="#000" stroke-width="1.0" />
<line x1="843.13" y1="360.01" x2="837.57" y2="357.76" stroke="#000" stroke-width="1.0" />
<line x1="848.03" y1="357.59" x2="849.63" y2="351.81" stroke="#000" stroke-width="1.0" />
<line x1="851.44" y1="356.18" x2="846.22" y2="353.23" stroke="#000" stroke-width="1.0" />
<line x1="856.62" y1="354.43" x2="858.96" y2="348.90" stroke="#000" stroke-width="1.0" />
<line x1="860.18" y1="353.47" x2="855.39" y2="349.86" stroke="#000" stroke-width="1.0" />
<line x1="865.54" y1="352.40" x2="868.59" y2="347.23" stroke="#000" stroke-width="1.0" />
<line x1="869.20" y1="351.92" x2="864.92" y2="347.72" stroke="#000" stroke-width="1.0" />
<line x1="874.65" y1="369.66" x2="878.35" y2="364.94" stroke="#000" stroke-width="1.0" />
<line x1="878.35" y1="369.66" x2="874.65" y2="364.94" stroke="#000" stroke-width="1.0" />
<line x1="881.43" y1="369.87" x2="885.71" y2="365.66" stroke="#000" stroke-width="1.0" />
<line x1="885.10" y1="370.35" x2="882.05" y2="365.18" stroke="#000" stroke-width="1.0" />
<line x1="888.13" y1="370.95" x2="892.92" y2="367.34" stroke="#000" stroke-width="1.0" />
<line x1="891.70" y1="371.91" x2="889.36" y2="366.39" stroke="#000" stroke-width="1.0" />
<line x1="894.63" y1="372.90" x2="899.85" y2="369.95" stroke="#000" stroke-width="1.0" />
<line x1="898.04" y1="374.32" x2="896.44" y2="368.53" stroke="#000" stroke-width="1.0" />
<line x1="900.82" y1="375.69" x2="906.38" y2="373.44" stroke="#000" stroke-width="1.0" />
<line x1="904.02" y1="377.53" x2="903.18" y2="371.59" stroke="#000" stroke-width="1.0" />
<line x1="906.59" y1="379.25" x2="912.40" y2="377.75" stroke="#000" stroke-width="1.0" />
<line x1="909.52" y1="381.50" x2="909.47" y2="375.50" stroke="#000" stroke-width="1.0" />
<line x1="911.85" y1="383.54" x2="917.80" y2="382.81" stroke="#000" stroke-width="1.0" />
<line x1="914.46" y1="386.15" x2="915.19" y2="380.20" stroke="#000" stroke-width="1.0" />
<line x1="916.50" y1="388.48" x2="922.50" y2="388.53" stroke="#000" stroke-width="1.0" />
<line x1="918.75" y1="391.41" x2="920.25" y2="385.60" stroke="#000" stroke-width="1.0" />
<line x1="920.47" y1="393.98" x2="926.41" y2="394.82" stroke="#000" stroke-width="1.0" />
<line x1="922.31" y1="397.18" x2="924.56" y2="391.62" stroke="#000" stroke-width="1.0" />
<line x1="923.68" y1="399.96" x2="929.47" y2="401.56" stroke="#000" stroke-width="1.0" />
<line x1="925.10" y1="403.37" x2="928.05" y2="398.15" stroke="#000" stroke-width="1.0" />
<line x1="926.09" y1="406.30" x2="931.61" y2="408.64" stroke="#000" stroke-width="1.0" />
<line x1="927.05" y1="409.87" x2="930.66" y2="405.08" stroke="#000" stroke-width="1.0" />
<line x1="927.65" y1="412.90" x2="932.82" y2="415.95" stroke="#000" stroke-width="1.0" />
<line x1="928.13" y1="416.57" x2="932.34" y2="412.29" stroke="#000" stroke-width="1.0" />
<line x1="928.34" y1="419.65" x2="933.06" y2="423.35" stroke="#000" stroke-width="1.0" />
<line x1="928.34" y1="423.35" x2="933.06" y2="419.65" stroke="#000" stroke-width="1.0" />
<line x1="928.13" y1="426.43" x2="932.34" y2="430.71" stroke="#000" stroke-width="1.0" />
<line x1="927.65" y1="430.10" x2="932.82" y2="427.05" stroke="#000" stroke-width="1.0" />
<line x1="927.05" y1="433.13" x2="930.66" y2="437.92" stroke="#000" stroke-width="1.0" />
<line x1="926.09" y1="436.70" x2="931.61" y2="434.36" stroke="#000" stroke-width="1.0" />
<line x1="925.10" y1="439.63" x2="928.05" y2="444.85" stroke="#000" stroke-width="1.0" />
<line x1="923.68" y1="443.04" x2="929.47" y2="441.44" stroke="#000" stroke-width="1.0" />
<line x1="922.31" y1="445.82" x2="924.56" y2="451.38" stroke="#000" stroke-width="1.0" />
<line x1="920.47" y1="449.02" x2="926.41" y2="448.18" stroke="#000" stroke-width="1.0" />
<line x1="918.75" y1="451.59" x2="920.25" y2="457.40" stroke="#000" stroke-width="1.0" />
<line x1="916.50" y1="454.52" x2="922.50" y2="454.47" stroke="#000" stroke-width="1.0" />
<line x1="914.46" y1="456.85" x2="915.19" y2="462.80" stroke="#000" stroke-width="1.0" />
<line x1="911.85" y1="459.46" x2="917.80" y2="460.19" stroke="#000" stroke-width="1.0" />
<line x1="909.52" y1="461.50" x2="909.47" y2="467.50" stroke="#000" stroke-width="1.0" />
<line x1="906.59" y1="463.75" x2="912.40" y2="465.25" stroke="#000" stroke-width="1.0" />
<line x1="904.02" y1="465.47" x2="903.18" y2="471.41" stroke="#000" stroke-width="1.0" />
<line x1="900.82" y1="467.31" x2="906.38" y2="469.56" stroke="#000" stroke-width="1.0" />
<line x1="898.04" y1="468.68" x2="896.44" y2="474.47" stroke="#000" stroke-width="1.0" />
<line x1="894.63" y1="470.10" x2="899.85" y2="473.05" stroke="#000" stroke-width="1.0" />
<line x1="891.70" y1="471.09" x2="889.36" y2="476.61" stroke="#000" stroke-width="1.0" />
<line x1="888.13" y1="472.05" x2="892.92" y2="475.66" stroke="#000" stroke-width="1.0" />
<line x1="885.10" y1="472.65" x2="882.05" y2="477.82" stroke="#000" stroke-width="1.0" />
<line x1="881.43" y1="473.13" x2="885.71" y2="477.34" stroke="#000" stroke-width="1.0" />
<line x1="878.35" y1="473.34" x2="874.65" y2="478.06" stroke="#000" stroke-width="1.0" />
<line x1="874.65" y1="473.34" x2="878.35" y2="478.06" stroke="#000" stroke-width="1.0" />
<line x1="871.57" y1="473.13" x2="867.29" y2="477.34" stroke="#000" stroke-width="1.0" />
<line x1="867.90" y1="472.65" x2="870.95" y2="477.82" stroke="#000" stroke-width="1.0" />
<line x1="864.87" y1="472.05" x2="860.08" y2="475.66" stroke="#000" stroke-width="1.0" />
<line x1="861.30" y1="471.09" x2="863.64" y2="476.61" stroke="#000" stroke-width="1.0" />
<line x1="858.37" y1="470.10" x2="853.15" y2="473.05" stroke="#000" stroke-width="1.0" />
<line x1="854.96" y1="468.68" x2="856.56" y2="474.47" stroke="#000" stroke-width="1.0" />
<line x1="852.18" y1="467.31" x2="846.62" y2="469.56" stroke="#000" stroke-width="1.0" />
<line x1="848.98" y1="465.47" x2="849.82" y2="471.41" stroke="#000" stroke-width="1.0" />
<line x1="846.41" y1="463.75" x2="840.60" y2="465.25" stroke="#000" stroke-width="1.0" />
<line x1="843.48" y1="461.50" x2="843.53" y2="467.50" stroke="#000" stroke-width="1.0" />
<line x1="841.15" y1="459.46" x2="835.20" y2="460.19" stroke="#000" stroke-width="1.0" />
<line x1="838.54" y1="456.85" x2="837.81" y2="462.80" stroke="#000" stroke-width="1.0" />
<line x1="836.50" y1="454.52" x2="830.50" y2="454.47" stroke="#000" stroke-width="1.0" />
<line x1="834.25" y1="451.59" x2="832.75" y2="457.40" stroke="#000" stroke-width="1.0" />
<line x1="832.53" y1="449.02" x2="826.59" y2="448.18" stroke="#000" stroke-width="1.0" />
<line x1="830.69" y1="445.82" x2="828.44" y2="451.38" stroke="#000" stroke-width="1.0" />
<line x1="829.32" y1="443.04" x2="823.53" y2="441.44" stroke="#000" stroke-width="1.0" />
<line x1="827.90" y1="439.63" x2="824.95" y2="444.85" stroke="#000" stroke-width="1.0" />
<line x1="826.91" y1="436.70" x2="821.39" y2="434.36" stroke="#000" stroke-width="1.0" />
<line x1="825.95" y1="433.13" x2="822.34" y2="437.92" stroke="#000" stroke-width="1.0" />
<line x1="825.35" y1="430.10" x2="820.18" y2="427.05" stroke="#000" stroke-width="1.0" />
<line x1="824.87" y1="426.43" x2="820.66" y2="430.71" stroke="#000" stroke-width="1.0" />
<line x1="824.66" y1="423.35" x2="819.94" y2="419.65" stroke="#000" stroke-width="1.0" />
<line x1="824.66" y1="419.65" x2="819.94" y2="423.35" stroke="#000" stroke-width="1.0" />
<line x1="824.87" y1="416.57" x2="820.66" y2="412.29" stroke="#000" stroke-width="1.0" />
<line x1="825.35" y1="412.90" x2="820.18" y2="415.95" stroke="#000" stroke-width="1.0" />
<line x1="825.95" y1="409.87" x2="822.34" y2="405.08" stroke="#000" stroke-width="1.0" />
<line x1="826.91" y1="406.30" x2="821.39" y2="408.64" stroke="#000" stroke-width="1.0" />
<line x1="827.90" y1="403.37" x2="824.95" y2="398.15" stroke="#000" stroke-width="1.0" />
<line x1="829.32" y1="399.96" x2="823.53" y2="401.56" stroke="#000" stroke-width="1.0" />
<line x1="830.69" y1="397.18" x2="828.44" y2="391.62" stroke="#000" stroke-width="1.0" />
<line x1="832.53" y1="393.98" x2="826.59" y2="394.82" stroke="#000" stroke-width="1.0" />
<line x1="834.25" y1="391.41" x2="832.75" y2="385.60" stroke="#000" stroke-width="1.0" />
<line x1="836.50" y1="388.48" x2="830.50" y2="388.53" stroke="#000" stroke-width="1.0" />
<line x1="838.54" y1="386.15" x2="837.81" y2="380.20" stroke="#000" stroke-width="1.0" />
<line x1="841.15" y1="383.54" x2="835.20" y2="382.81" stroke="#000" stroke-width="1.0" />
<line x1="843.48" y1="381.50" x2="843.53" y2="375.50" stroke="#000" stroke-width="1.0" />
<line x1="846.41" y1="379.25" x2="840.60" y2="377.75" stroke="#000" stroke-width="1.0" />
<line x1="848.98" y1="377.53" x2="849.82" y2="371.59" stroke="#000" stroke-width="1.0" />
<line x1="852.18" y1="375.69" x2="846.62" y2="373.44" stroke="#000" stroke-width="1.0" />
<line x1="854.96" y1="374.32" x2="856.56" y2="368.53" stroke="#000" stroke-width="1.0" />
<line x1="858.37" y1="372.90" x2="853.15" y2="369.95" stroke="#000" stroke-width="1.0" />
<line x1="861.30" y1="371.91" x2="863.64" y2="366.39" stroke="#000" stroke-width="1.0" />
<line x1="864.87" y1="370.95" x2="860.08" y2="367.34" stroke="#000" stroke-width="1.0" />
<line x1="867.90" y1="370.35" x2="870.95" y2="365.18" stroke="#000" stroke-width="1.0" />
<line x1="871.57" y1="369.87" x2="867.29" y2="365.66" stroke="#000" stroke-width="1.0" />
<line x1="887.99" y1="334.25" x2="885.94" y2="349.82" stroke="#000" stroke-width="1.0" />
<line x1="885.94" y1="349.82" x2="883.09" y2="371.43" stroke="#222" stroke-width="1.0" stroke-dasharray="3 2"/>
<line x1="876.50" y1="334.30" x2="887.99" y2="334.30" stroke="#000" stroke-width="1.3" />
<text x="872.00" y="329.30" font-family="Liberation Sans" font-size="12" text-anchor="start" fill="#000"  stroke="#000" stroke-width="0.25">7°30'</text>
<text x="862.60" y="340.50" font-family="Liberation Sans" font-size="12" text-anchor="start" fill="#000"  stroke="#000" stroke-width="0.25">G</text>
<text x="888.50" y="507.40" font-family="Liberation Sans" font-size="12" text-anchor="start" fill="#000"  stroke="#000" stroke-width="0.25">G</text>
<line x1="871.30" y1="345.60" x2="871.30" y2="353.60" stroke="#000" stroke-width="0.9" />
<line x1="873.10" y1="345.60" x2="873.10" y2="353.60" stroke="#000" stroke-width="0.9" />
<line x1="881.30" y1="489.80" x2="881.30" y2="498.20" stroke="#222" stroke-width="0.9" stroke-dasharray="3 1.5"/>
<text x="805.71" y="523.1" font-family="Liberation Mono" font-size="12.6" fill="#555" textLength="140.6" lengthAdjust="spacingAndGlyphs">Lmplantation suivant A</text>
<text x="789.74" y="538.0" font-family="Liberation Mono" font-size="12.6" fill="#555" textLength="172.5" lengthAdjust="spacingAndGlyphs">Lmplantation according to A</text>
<text x="831.27" y="552.7" font-family="Liberation Mono" font-size="12.6" fill="#555" textLength="89.5" lengthAdjust="spacingAndGlyphs">Ansicht nach A</text>
<line x1="667.60" y1="646.40" x2="1054.00" y2="646.40" stroke="#000" stroke-width="1.2" />
<line x1="667.60" y1="646.40" x2="667.60" y2="746.00" stroke="#000" stroke-width="1.1" />
<line x1="667.60" y1="695.00" x2="1054.00" y2="695.00" stroke="#000" stroke-width="1.2" />
<line x1="741.50" y1="695.00" x2="741.50" y2="746.00" stroke="#000" stroke-width="1.1" />
<line x1="864.60" y1="695.00" x2="864.60" y2="746.00" stroke="#000" stroke-width="1.1" />
<line x1="667.60" y1="716.90" x2="741.50" y2="716.90" stroke="#000" stroke-width="1.2" />
<text x="714.00" y="679.60" font-family="Liberation Sans" font-size="25" text-anchor="start" fill="#000"  stroke="#000" stroke-width="0.25">BSPD</text>
<text x="780.70" y="665.90" font-family="Liberation Sans" font-size="12" text-anchor="start" fill="#000"  stroke="#000" stroke-width="0.25">®</text>
<text x="798.60" y="669.50" font-family="Liberation Sans" font-size="12.5" text-anchor="start" fill="#000"  stroke="#000" stroke-width="0.25">SHANGHAI BSPD BEARING LIMITED</text>
<text x="822.60" y="684.90" font-family="Liberation Sans" font-size="12.5" text-anchor="start" fill="#000"  stroke="#000" stroke-width="0.25">https://www.bspdbearing.com/</text>
<text x="670.80" y="711.70" font-family="Liberation Sans" font-size="10.4" text-anchor="start" fill="#000"  stroke="#000" stroke-width="0.25">PROJECTION</text>
<text x="749.20" y="723.80" font-family="Liberation Sans" font-size="10.4" text-anchor="start" fill="#000"  stroke="#000" stroke-width="0.25">SLEWING BEARINGS</text>
<text x="877.80" y="709.20" font-family="Liberation Sans" font-size="12.75" text-anchor="start" fill="#000" xml:space="preserve" style="white-space:pre" stroke="#000" stroke-width="0.25">PART  NUMBER</text>
<text x="926.30" y="731.80" font-family="Liberation Sans" font-size="14.5" text-anchor="start" fill="#000"  stroke="#000" stroke-width="0.25">02 1715 00</text>
<circle cx="693.7" cy="730.4" r="8.7" fill="none" stroke="#000" stroke-width="0.9"/>
<circle cx="693.7" cy="730.4" r="4.9" fill="none" stroke="#000" stroke-width="0.9"/>
<line x1="682.90" y1="730.40" x2="730.80" y2="730.40" stroke="#000" stroke-width="0.9" />
<line x1="693.70" y1="720.00" x2="693.70" y2="740.90" stroke="#000" stroke-width="0.9" />
<path d="M706,725.7 L726.7,722 L726.7,738.7 L706,735 Z" stroke="#000" stroke-width="0.9" fill="none" />
</svg>
</body></html>
